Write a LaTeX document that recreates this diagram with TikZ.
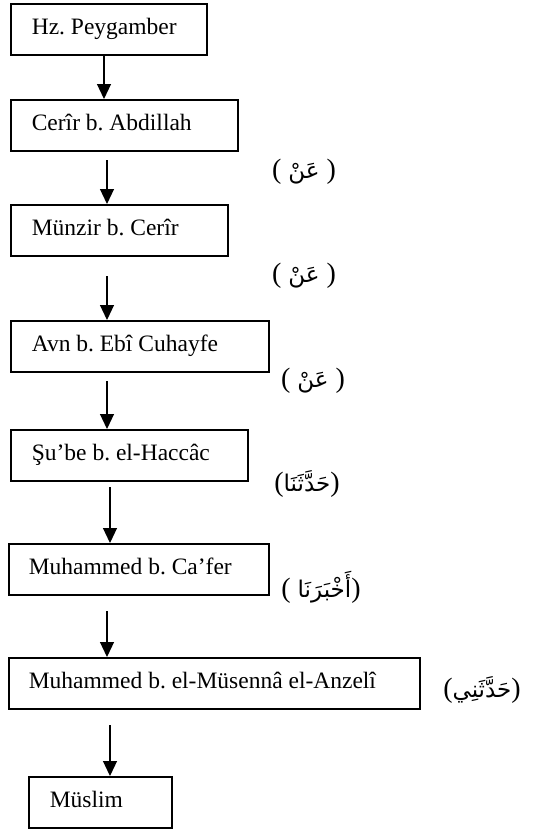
\documentclass[tikz,border=0pt]{standalone}
\usepackage{fontspec}
\setmainfont{Liberation Serif}
\newfontfamily\arabicfont[Script=Arabic]{DejaVu Sans}
\TeXXeTstate=1
\usetikzlibrary{arrows.meta}
\newcommand{\boxtext}[2]{\makebox[#1][l]{\strut #2}}
\newcommand{\artext}[1]{{\arabicfont\fontsize{23}{26}\selectfont\beginR #1\endR}}
\begin{document}
\frenchspacing
\begin{tikzpicture}[x=1pt,y=-1pt,
  box/.style={draw,line width=1.6pt,rectangle,anchor=north west,minimum height=51pt,
    inner xsep=21pt,inner ysep=0pt,font=\fontsize{23.5}{28}\selectfont},
  arr/.style={line width=1.2pt,-{Triangle[width=14pt,length=15pt]}},
  lab/.style={inner sep=0pt,font=\fontsize{28}{32}\selectfont}]
\useasboundingbox (0,0) rectangle (533,830);
\node[box] (b1) at (10,3) {\boxtext{154pt}{Hz. Peygamber}};
\node[box] (b2) at (10,99) {\boxtext{185pt}{Cerîr b. Abdillah}};
\node[box] (b3) at (10,204) {\boxtext{175pt}{Münzir b. Cerîr}};
\node[box] (b4) at (10,320) {\boxtext{216pt}{Avn b. Ebî Cuhayfe}};
\node[box] (b5) at (10,429) {\boxtext{195pt}{Şu’be b. el-Haccâc}};
\node[box,inner xsep=20pt] (b6) at (8,543) {\boxtext{220pt}{Muhammed b. Ca’fer}};
\node[box,inner xsep=20pt] (b7) at (8,657) {\boxtext{371pt}{Muhammed b. el-Müsennâ el-Anzelî}};
\node[box] (b8) at (28,776) {\boxtext{101pt}{Müslim}};
\coordinate (s1) at (104,54);
\coordinate (s2) at (107,160);
\coordinate (s3) at (107,276);
\coordinate (s4) at (107,381);
\coordinate (s5) at (110,487);
\coordinate (s6) at (107,611);
\coordinate (s7) at (110,725);
\draw[arr] (s1) -- (s1 |- b2.north);
\draw[arr] (s2) -- (s2 |- b3.north);
\draw[arr] (s3) -- (s3 |- b4.north);
\draw[arr] (s4) -- (s4 |- b5.north);
\draw[arr] (s5) -- (s5 |- b6.north);
\draw[arr] (s6) -- (s6 |- b7.north);
\draw[arr] (s7) -- (s7 |- b8.north);
\node[lab] (l1) at (304,172) {( \artext{عَنْ} )};
\node[lab] (l2) at (304,276) {( \artext{عَنْ} )};
\node[lab] (l3) at (313,381) {( \artext{عَنْ} )};
\node[lab] (l4) at (307,484) {(\artext{حَدَّثَنَا})};
\node[lab] (l5) at (321,587) {( \artext{أَخْبَرَنَا})};
\node[lab] (l6) at (482,690) {(\artext{حَدَّثَنِي})};
\end{tikzpicture}
\end{document}
